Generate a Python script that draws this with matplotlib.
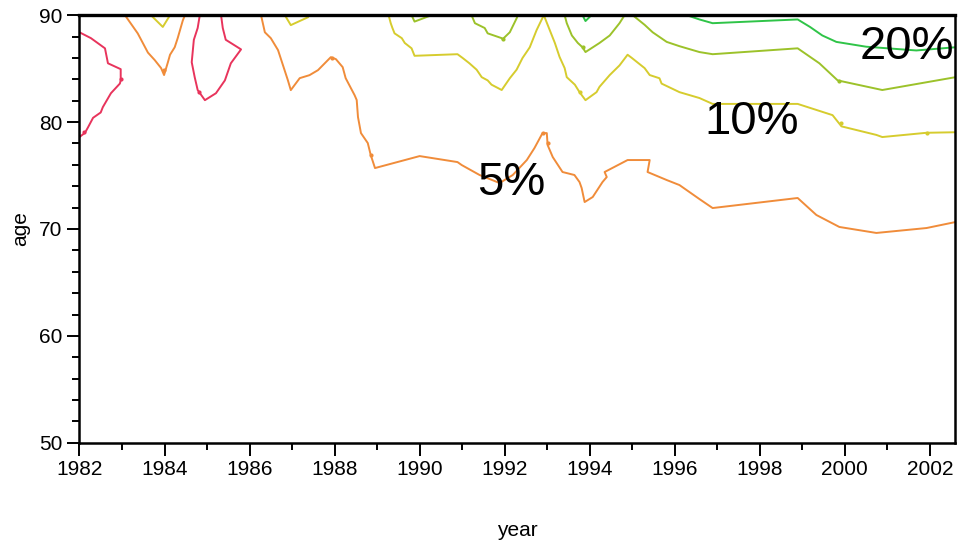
import matplotlib
matplotlib.use('Agg')
import matplotlib.pyplot as plt
import numpy as np

plt.rcParams['font.family'] = ['Liberation Sans', 'DejaVu Sans']

# contour lines (year, age)
red_a_x = [1982.0, 1982.27, 1982.6, 1982.67, 1982.97, 1982.97, 1982.95, 1982.74, 1982.55, 1982.5, 1982.32, 1982.2, 1982.13, 1982.0]
red_a_y = [88.4, 87.85, 86.9, 85.5, 84.95, 83.9, 83.6, 82.7, 81.4, 80.9, 80.4, 79.5, 79.0, 78.6]

red_b_x = [1984.83, 1984.78, 1984.69, 1984.64, 1984.71, 1984.78, 1984.95, 1985.21, 1985.42, 1985.56, 1985.8, 1985.44, 1985.37, 1985.33]
red_b_y = [90, 88.8, 87.7, 85.6, 84.2, 83.0, 82.05, 82.7, 83.9, 85.5, 86.8, 87.7, 88.8, 90]

orange_a_x = [1983.07, 1983.37, 1983.61, 1983.77, 1983.92, 1983.99, 1984.08, 1984.13, 1984.24, 1984.31, 1984.43, 1984.48]
orange_a_y = [90, 88.3, 86.5, 85.8, 85.05, 84.4, 85.6, 86.3, 87.0, 87.85, 89.5, 90]

orange_b_x = [1986.27, 1986.36, 1986.5, 1986.67, 1986.9, 1986.97, 1987.18, 1987.41, 1987.61, 1987.91, 1988.03,
              1988.19, 1988.26, 1988.47, 1988.52, 1988.55, 1988.62, 1988.78, 1988.85, 1988.95, 1990.0, 1990.89,
              1990.99, 1991.41, 1991.88, 1992.19, 1992.52, 1992.7, 1992.89, 1992.99, 1993.01, 1993.13, 1993.36,
              1993.64, 1993.76, 1993.81, 1993.88, 1994.07, 1994.3, 1994.4, 1994.35, 1994.89, 1995.41, 1995.36,
              1995.81, 1996.11, 1996.58, 1996.89, 1998.89, 1999.33, 1999.87, 2000.74, 2001.92, 2002.6]
orange_b_y = [90, 88.4, 87.85, 86.73, 83.93, 82.99, 84.11, 84.39, 84.86, 86.07, 85.89,
              85.14, 84.11, 82.52, 82.06, 80.47, 78.97, 78.04, 76.92, 75.7, 76.82, 76.26,
              75.98, 75.05, 74.3, 75.05, 76.45, 77.57, 78.97, 78.97, 77.85, 76.73, 75.33,
              75.05, 74.39, 73.83, 72.52, 72.99, 74.39, 74.86, 75.33, 76.45, 76.45, 75.33,
              74.58, 74.11, 72.8, 71.96, 72.9, 71.31, 70.19, 69.63, 70.09, 70.65]

yellow_a_x = [1983.68, 1983.96, 1984.13]
yellow_a_y = [90, 88.9, 90]

yellow_b_x = [1986.83, 1986.97, 1987.37]
yellow_b_y = [90, 89.07, 89.8]

yellow_c_x = [1989.27, 1989.32, 1989.36, 1989.41, 1989.58, 1989.65, 1989.81, 1989.88, 1990.89, 1991.01, 1991.17,
              1991.34, 1991.46, 1991.6, 1991.69, 1991.93, 1992.12, 1992.28, 1992.42, 1992.54, 1992.59, 1992.75,
              1992.92, 1993.06, 1993.18, 1993.29, 1993.41, 1993.46, 1993.65, 1993.76, 1993.9, 1994.16, 1994.23,
              1994.47, 1994.7, 1994.89, 1994.99, 1995.29, 1995.41, 1995.64, 1995.69, 1996.11, 1996.58, 1996.89,
              1998.89, 1999.71, 1999.92, 2000.74, 2000.88, 2001.92, 2002.6]
yellow_c_y = [90, 89.25, 88.8, 88.3, 87.85, 87.4, 86.9, 86.2, 86.35, 86.0, 85.5,
              84.9, 84.2, 83.9, 83.5, 83.0, 84.1, 84.9, 86.0, 86.7, 87.0, 88.6,
              90, 88.6, 87.4, 86.1, 85.05, 84.2, 83.5, 82.8, 82.05, 82.8, 83.3,
              84.4, 85.3, 86.3, 86.0, 85.05, 84.4, 84.1, 83.6, 82.8, 82.25, 81.7,
              81.7, 80.65, 79.6, 78.8, 78.6, 79.0, 79.05]

ygreen_a_x = [1989.81, 1989.88, 1990.28]
ygreen_a_y = [90, 89.4, 90]

ygreen_b_x = [1991.22, 1991.3, 1991.53, 1991.6, 1991.93, 1991.95, 1992.12, 1992.28, 1992.31]
ygreen_b_y = [90, 89.25, 88.8, 88.3, 87.85, 87.75, 88.4, 89.7, 90]

ygreen_c_x = [1993.41, 1993.46, 1993.58, 1993.72, 1993.83, 1993.9, 1994.23, 1994.47, 1994.7, 1994.82]
ygreen_c_y = [90, 89.25, 88.1, 87.4, 87.0, 86.55, 87.4, 88.1, 89.25, 90]

ygreen_d_x = [1995.01, 1995.29, 1995.48, 1995.81, 1996.11, 1996.58, 1996.89, 1998.89, 1999.4, 1999.83, 2000.88, 2002.6]
ygreen_d_y = [90, 89.1, 88.4, 87.5, 87.1, 86.55, 86.35, 86.9, 85.5, 83.9, 83.0, 84.2]

green_a_x = [1993.83, 1993.9, 1994.04]
green_a_y = [90, 89.45, 90]

green_b_x = [1996.28, 1996.58, 1996.89, 1998.89, 1999.18, 1999.47, 1999.8, 2000.5, 2001.68, 2002.6]
green_b_y = [90, 89.6, 89.25, 89.6, 88.9, 88.1, 87.5, 87.05, 86.7, 87.0]

# small dots along the lines
dots = {
    '#e8345c': ([1982.97, 1982.1, 1984.82], [84.0, 79.1, 82.8]),
    '#f08c3a': ([1983.99, 1987.95, 1988.85, 1992.89, 1993.01], [84.9, 86.0, 76.9, 78.97, 78.0]),
    '#d6cc2e': ([1993.76, 1999.92, 2001.92], [82.8, 79.9, 79.0]),
    '#9cc22a': ([1991.95, 1993.83, 1999.86], [87.75, 87.0, 83.8]),
}

red = '#e8345c'
orange = '#f08c3a'
yellow = '#d6cc2e'
ygreen = '#9cc22a'
green = '#2fc448'

fig = plt.figure(figsize=(9.69, 5.42), dpi=100)
ax = fig.add_axes([0.082, 0.183, 0.904, 0.789])

lw = 1.4
for xs, ys, c in [(red_a_x, red_a_y, red), (red_b_x, red_b_y, red),
                  (orange_a_x, orange_a_y, orange), (orange_b_x, orange_b_y, orange),
                  (yellow_a_x, yellow_a_y, yellow), (yellow_b_x, yellow_b_y, yellow),
                  (yellow_c_x, yellow_c_y, yellow),
                  (ygreen_a_x, ygreen_a_y, ygreen), (ygreen_b_x, ygreen_b_y, ygreen),
                  (ygreen_c_x, ygreen_c_y, ygreen), (ygreen_d_x, ygreen_d_y, ygreen),
                  (green_a_x, green_a_y, green), (green_b_x, green_b_y, green)]:
    ax.plot(xs, ys, color=c, lw=lw, clip_on=True)

for c, (dx, dy) in dots.items():
    ax.plot(dx, dy, 'o', color=c, ms=3, mew=0)

ax.text(1992.15, 74.3, '5%', fontsize=34, ha='center', va='center')
ax.text(1997.8, 80.0, '10%', fontsize=34, ha='center', va='center')
ax.text(2001.45, 87.0, '20%', fontsize=34, ha='center', va='center')

ax.set_xlim(1982, 2002.6)
ax.set_ylim(50, 90)
ax.set_xticks(np.arange(1982, 2003, 2))
ax.set_xticks(np.arange(1982, 2003, 1), minor=True)
ax.set_yticks(np.arange(50, 91, 10))
ax.set_yticks(np.arange(50, 91, 2), minor=True)
ax.tick_params(which='major', direction='out', length=9, width=1.4, labelsize=15, top=False, right=False)
ax.tick_params(which='minor', direction='out', length=5, width=1.4, top=False, right=False)
for s in ax.spines.values():
    s.set_linewidth(1.8)
ax.spines['top'].set_linewidth(2.4)

ax.set_xlabel('year', fontsize=15, labelpad=30)
ax.set_ylabel('age', fontsize=15, labelpad=6)

fig.savefig('out.png', dpi=100)
